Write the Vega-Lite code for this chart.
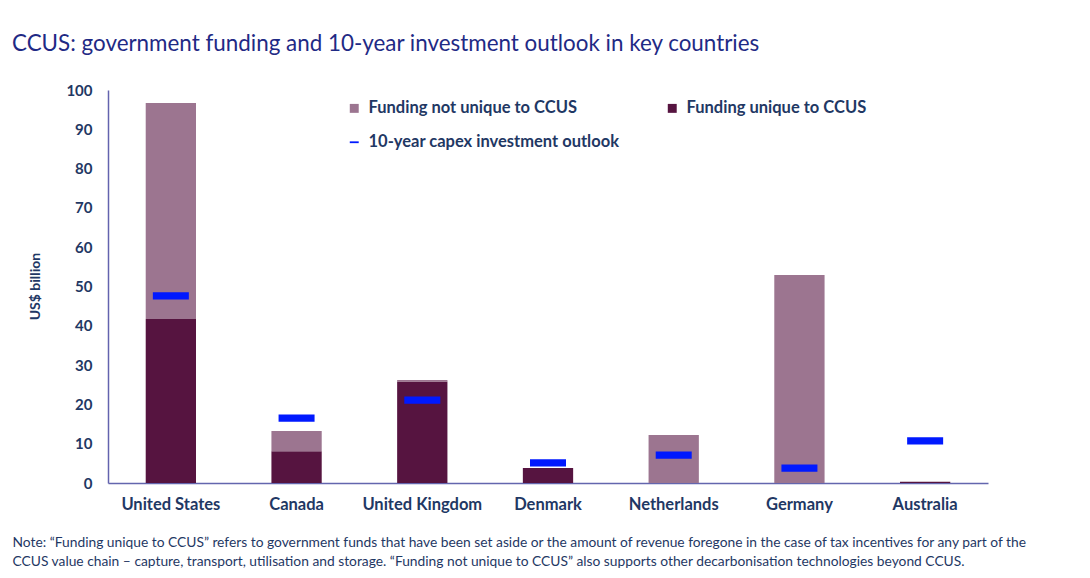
{
  "$schema": "https://vega.github.io/schema/vega-lite/v6.json",
  "width": 880,
  "height": 393,
  "autosize": {"type": "none"},
  "padding": {"left": 108, "top": 90, "right": 102, "bottom": 95},
  "background": "white",
  "title": {
    "text": "CCUS: government funding and 10-year investment outlook in key countries",
    "anchor": "start",
    "frame": "group",
    "dx": -96,
    "offset": 28,
    "font": "Lato",
    "fontSize": 22.4,
    "fontWeight": "normal",
    "color": "#1F2A85"
  },
  "config": {
    "view": {"stroke": null},
    "font": "Lato"
  },
  "data": {
    "values": [
      {"country": "United States", "series": "Funding unique to CCUS", "value": 41.7},
      {"country": "United States", "series": "Funding not unique to CCUS", "value": 55.0},
      {"country": "United States", "series": "10-year capex investment outlook", "value": 47.6},
      {"country": "Canada", "series": "Funding unique to CCUS", "value": 8.1},
      {"country": "Canada", "series": "Funding not unique to CCUS", "value": 5.1},
      {"country": "Canada", "series": "10-year capex investment outlook", "value": 16.5},
      {"country": "United Kingdom", "series": "Funding unique to CCUS", "value": 25.8},
      {"country": "United Kingdom", "series": "Funding not unique to CCUS", "value": 0.4},
      {"country": "United Kingdom", "series": "10-year capex investment outlook", "value": 21.1},
      {"country": "Denmark", "series": "Funding unique to CCUS", "value": 3.8},
      {"country": "Denmark", "series": "Funding not unique to CCUS", "value": 0},
      {"country": "Denmark", "series": "10-year capex investment outlook", "value": 5.1},
      {"country": "Netherlands", "series": "Funding unique to CCUS", "value": 0},
      {"country": "Netherlands", "series": "Funding not unique to CCUS", "value": 12.2},
      {"country": "Netherlands", "series": "10-year capex investment outlook", "value": 7.1},
      {"country": "Germany", "series": "Funding unique to CCUS", "value": 0},
      {"country": "Germany", "series": "Funding not unique to CCUS", "value": 52.9},
      {"country": "Germany", "series": "10-year capex investment outlook", "value": 3.8},
      {"country": "Australia", "series": "Funding unique to CCUS", "value": 0.3},
      {"country": "Australia", "series": "Funding not unique to CCUS", "value": 0},
      {"country": "Australia", "series": "10-year capex investment outlook", "value": 10.7}
    ]
  },
  "encoding": {
    "x": {
      "field": "country",
      "type": "nominal",
      "sort": ["United States", "Canada", "United Kingdom", "Denmark", "Netherlands", "Germany", "Australia"],
      "scale": {"paddingInner": 0.6, "paddingOuter": 0.3},
      "axis": {
        "labelAngle": 0,
        "labelFont": "Lato",
        "labelFontSize": 16.5,
        "labelFontWeight": "bold",
        "labelColor": "#1F3864",
        "labelPadding": 13,
        "ticks": false,
        "domainColor": "#6366AE",
        "domainWidth": 1.5,
        "title": ["Note:  \u201cFunding unique to CCUS\u201d  refers to government  funds that have been  set aside or the  amount of revenue  foregone  in the  case of tax incentives for any part of the", "CCUS value chain \u2013 capture, transport, utilisation and storage. \u201cFunding not unique to CCUS\u201d  also supports other decarbonisation technologies beyond CCUS."],
        "titleFont": "Lato",
        "titleFontSize": 13.8,
        "titleFontWeight": "normal",
        "titleColor": "#1F3864",
        "titleAnchor": "start",
        "titleAlign": "left",
        "titleBaseline": "top",
        "titleX": -96,
        "titleY": 52,
        "titleLineHeight": 19
      }
    },
    "y": {
      "field": "value",
      "type": "quantitative",
      "scale": {"domain": [0, 100]},
      "axis": {
        "values": [0, 10, 20, 30, 40, 50, 60, 70, 80, 90, 100],
        "labelOverlap": false,
        "grid": false,
        "ticks": false,
        "labelFont": "Lato",
        "labelFontSize": 15,
        "labelFontWeight": "bold",
        "labelColor": "#1F3864",
        "labelPadding": 16,
        "domainColor": "#6363AE",
        "domainWidth": 1.5,
        "title": "US$ billion",
        "titleFont": "Lato",
        "titleFontSize": 14,
        "titleFontWeight": "bold",
        "titleColor": "#1F3864",
        "titleX": -73,
        "titleY": 196,
        "titleAlign": "center",
        "titleBaseline": "middle",
        "titleAngle": -90
      }
    },
    "color": {
      "field": "series",
      "type": "nominal",
      "scale": {
        "domain": ["Funding not unique to CCUS", "10-year capex investment outlook", "Funding unique to CCUS"],
        "range": ["#9C7590", "#0019FF", "#561440"]
      },
      "legend": {
        "title": null,
        "orient": "none",
        "legendX": 238,
        "legendY": 10,
        "columns": 2,
        "columnPadding": 44,
        "rowPadding": 17,
        "padding": 0,
        "symbolSize": 80,
        "symbolOpacity": 1,
        "labelFont": "Lato",
        "labelFontSize": 16.5,
        "labelFontWeight": "bold",
        "labelColor": "#1F3864",
        "labelOffset": 6,
        "labelLimit": 400
      }
    }
  },
  "layer": [
    {
      "transform": [{"filter": "datum.series != '10-year capex investment outlook'"}],
      "mark": {"type": "bar"},
      "encoding": {
        "y": {"field": "value", "type": "quantitative", "stack": "zero"},
        "order": {"field": "series", "sort": "descending"}
      }
    },
    {
      "transform": [{"filter": "datum.series == '10-year capex investment outlook'"}],
      "mark": {"type": "point", "filled": true, "opacity": 1},
      "encoding": {
        "size": {"value": 1296},
        "shape": {
          "field": "series",
          "type": "nominal",
          "scale": {
            "domain": ["Funding not unique to CCUS", "10-year capex investment outlook", "Funding unique to CCUS"],
            "range": ["square", "M-1,-0.2H1V0.2H-1Z", "square"]
          },
          "legend": {
            "title": null,
            "orient": "none",
            "legendX": 238,
            "legendY": 10,
            "columns": 2,
            "columnPadding": 44,
            "rowPadding": 17,
            "padding": 0,
            "symbolSize": 80,
            "labelFont": "Lato",
            "labelFontSize": 16.5,
            "labelFontWeight": "bold",
            "labelColor": "#1F3864",
            "labelOffset": 6,
            "labelLimit": 400
          }
        }
      }
    }
  ]
}
